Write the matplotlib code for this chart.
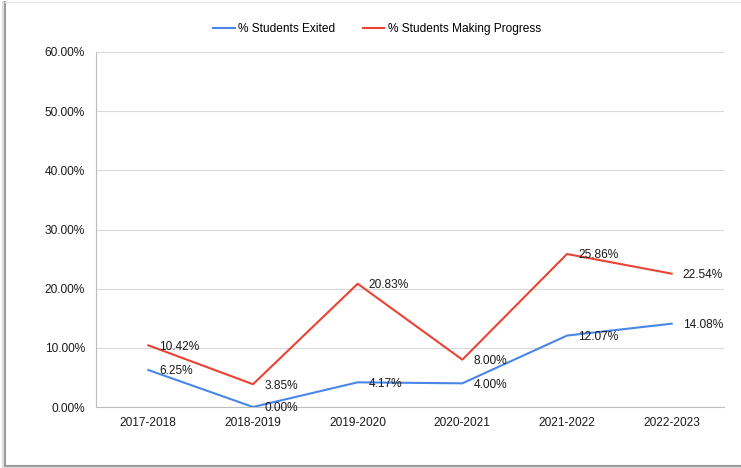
import matplotlib
matplotlib.use("Agg")
import matplotlib.pyplot as plt
from matplotlib.lines import Line2D
from matplotlib.ticker import FuncFormatter

# data
years = ["2017-2018", "2018-2019", "2019-2020", "2020-2021", "2021-2022", "2022-2023"]
exited = [6.25, 0.00, 4.17, 4.00, 12.07, 14.08]
progress = [10.42, 3.85, 20.83, 8.00, 25.86, 22.54]
y_ticks = [0, 10, 20, 30, 40, 50, 60]

plt.rcParams['font.family'] = ['Liberation Sans', 'DejaVu Sans']

W, H = 741, 468
fig = plt.figure(figsize=(W / 100, H / 100), dpi=100)
ax = fig.add_axes([96 / W, 1 - 407 / H, (724 - 96) / W, (407 - 52) / H])

blue = '#4a86e8'
red = '#ea4335'
x = list(range(len(years)))

ax.plot(x, exited, color=blue, lw=1.5, label='% Students Exited', zorder=3)
ax.plot(x, progress, color=red, lw=1.5, label='% Students Making Progress', zorder=3)

# data labels to the right of each point
for xi, v in zip(x, exited):
    ax.annotate('%.2f%%' % v, (xi, v), xytext=(8, -1), textcoords='offset points',
                va='center', ha='left', fontsize=8.6, color='#1a1a1a', zorder=4)
for xi, v in zip(x, progress):
    ax.annotate('%.2f%%' % v, (xi, v), xytext=(8, -1), textcoords='offset points',
                va='center', ha='left', fontsize=8.6, color='#1a1a1a', zorder=4)

ax.set_xlim(-0.5, len(years) - 0.5)
ax.set_ylim(0, 60)
ax.set_yticks(y_ticks)
ax.yaxis.set_major_formatter(FuncFormatter(lambda v, p: '%.2f%%' % v))
ax.set_xticks(x)
ax.set_xticklabels(years)
ax.tick_params(axis='both', length=0, labelsize=8.6, labelcolor='#1a1a1a')
ax.tick_params(axis='y', pad=8)
ax.tick_params(axis='x', pad=7)

ax.grid(axis='y', color='#d9d9d9', lw=0.8)
ax.set_axisbelow(True)
for s in ['top', 'right']:
    ax.spines[s].set_visible(False)
ax.spines['left'].set_color('#bdbdbd')
ax.spines['bottom'].set_color('#bdbdbd')
ax.spines['left'].set_linewidth(0.8)
ax.spines['bottom'].set_linewidth(0.8)

fig.legend(loc='center', bbox_to_anchor=(377 / W, 1 - 29 / H), ncol=2, frameon=False,
           fontsize=8.6, handlelength=1.8, handletextpad=0.3, columnspacing=2.3)

# frame around the chart with a bit of shadow
def px(xp, yp):
    return xp / W, 1 - yp / H

frame = [
    ((5, 2), (5, 466), '#9a9a9a', 1.5),
    ((5, 466), (741, 466), '#9a9a9a', 1.5),
    ((5, 2), (741, 2), '#e6e6e6', 1.0),
    ((3, 2), (3, 468), '#dddddd', 1.5),
    ((3, 467.5), (741, 467.5), '#dddddd', 1.5),
]
for a, b, c, w in frame:
    (x0, y0), (x1, y1) = px(*a), px(*b)
    fig.add_artist(Line2D([x0, x1], [y0, y1], transform=fig.transFigure, color=c, lw=w))

fig.savefig('out.png', dpi=100)
